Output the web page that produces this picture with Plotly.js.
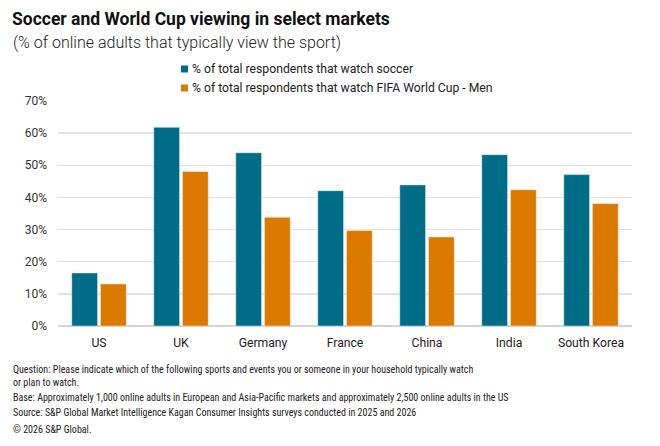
<!DOCTYPE html>
<html>
<head>
<meta charset="utf-8">
<script src="https://cdn.plot.ly/plotly-3.0.1.min.js"></script>
<style>
  html, body { margin: 0; padding: 0; background: #fff; }
  #chart { width: 660px; height: 446px; }
</style>
</head>
<body>
<div id="chart"></div>
<script>
// Markets surveyed
const markets = ["US", "UK", "Germany", "France", "China", "India", "South Korea"];

// Share of online adults (%) watching each
const soccerShare = [16.5, 61.8, 53.9, 42.1, 43.9, 53.3, 47.1];
const worldCupShare = [13.1, 48.1, 33.8, 29.7, 27.7, 42.4, 38.1];

const seriesNames = [
  "% of total respondents that watch soccer",
  "% of total respondents that watch FIFA World Cup - Men"
];

const yTickVals = [0, 10, 20, 30, 40, 50, 60, 70];
const yTickText = ["0%", "10%", "20%", "30%", "40%", "50%", "60%", "70%"];

const footnotes = [
  "Question: Please indicate which of the following sports and events you or someone in your household typically watch<br>or plan to watch.",
  "Base: Approximately 1,000 online adults in European and Asia-Pacific markets and approximately 2,500 online adults in the US",
  "Source: S&P Global Market Intelligence Kagan Consumer Insights surveys conducted in 2025 and 2026",
  "© 2026 S&P Global."
];

const colors = ["#006D88", "#DC7A00"];
const FONT = "Roboto, 'Noto Sans', sans-serif";
const NOTE_FONT = "'Liberation Sans Narrow', 'Roboto Condensed', Roboto, sans-serif";

// Plot area in pixels
const W = 660, H = 446;
const M = { l: 58, r: 28, t: 101, b: 120 };
const pw = W - M.l - M.r, ph = H - M.t - M.b;
const px = x => (x - M.l) / pw;
const py = y => (H - M.b - y) / ph;

const traces = [soccerShare, worldCupShare].map((vals, i) => ({
  type: "bar",
  name: seriesNames[i],
  x: markets,
  y: vals,
  marker: { color: colors[i], line: { color: "rgba(255,255,255,0.45)", width: 1 } },
  hoverinfo: "x+y",
  showlegend: false
}));

const annotations = [
  {
    text: "(% of online adults that typically view the sport)",
    xref: "paper", yref: "paper", x: px(11), y: py(43),
    xanchor: "left", yanchor: "middle", showarrow: false,
    font: { family: FONT, size: 16, color: "#222", weight: 300 }
  }
];

// Legend rows
const legendY = [69, 88];
const shapes = [];
seriesNames.forEach((name, i) => {
  shapes.push({
    type: "rect", xref: "paper", yref: "paper",
    x0: px(181), x1: px(188), y0: py(legendY[i] + 3.5), y1: py(legendY[i] - 3.5),
    fillcolor: colors[i], line: { width: 0 }
  });
  annotations.push({
    text: name, xref: "paper", yref: "paper", x: px(190), y: py(legendY[i]),
    xanchor: "left", yanchor: "middle", showarrow: false,
    font: { family: FONT, size: 12.2, color: "#222" }
  });
});

// Notes beneath the chart
const noteY = [376, 397, 412, 429];
footnotes.forEach((t, i) => {
  annotations.push({
    text: t, xref: "paper", yref: "paper", x: px(11), y: py(noteY[i]),
    xanchor: "left", yanchor: "middle", align: "left", showarrow: false,
    font: { family: NOTE_FONT, size: 10, color: "#222" }
  });
});

const layout = {
  width: W, height: H,
  margin: M,
  paper_bgcolor: "#fff", plot_bgcolor: "#fff",
  font: { family: FONT, size: 12, color: "#333" },
  title: {
    text: "<b>Soccer and World Cup viewing in select markets</b>",
    x: 12 / W, xanchor: "left", xref: "container",
    y: 1 - 19 / H, yanchor: "middle", yref: "container",
    font: { family: FONT, size: 17.5, color: "#111" }
  },
  barmode: "group",
  bargap: 0.3,
  bargroupgap: 0.1,
  xaxis: {
    showline: false, showgrid: false, zeroline: false,
    ticks: "", ticklabelstandoff: 8,
    tickfont: { family: FONT, size: 12.2, color: "#222" },
    fixedrange: true
  },
  yaxis: {
    range: [0, 70], tickvals: yTickVals, ticktext: yTickText,
    showgrid: true, gridcolor: "#e2e2e2", gridwidth: 1.5,
    zeroline: true, zerolinecolor: "#d4d4d4", zerolinewidth: 1.5,
    showline: false, ticks: "", ticklabelstandoff: 10,
    tickfont: { family: FONT, size: 12, color: "#333" },
    fixedrange: true
  },
  shapes: shapes,
  annotations: annotations
};

Plotly.newPlot("chart", traces, layout, { staticPlot: true, displayModeBar: false });
</script>
</body>
</html>
